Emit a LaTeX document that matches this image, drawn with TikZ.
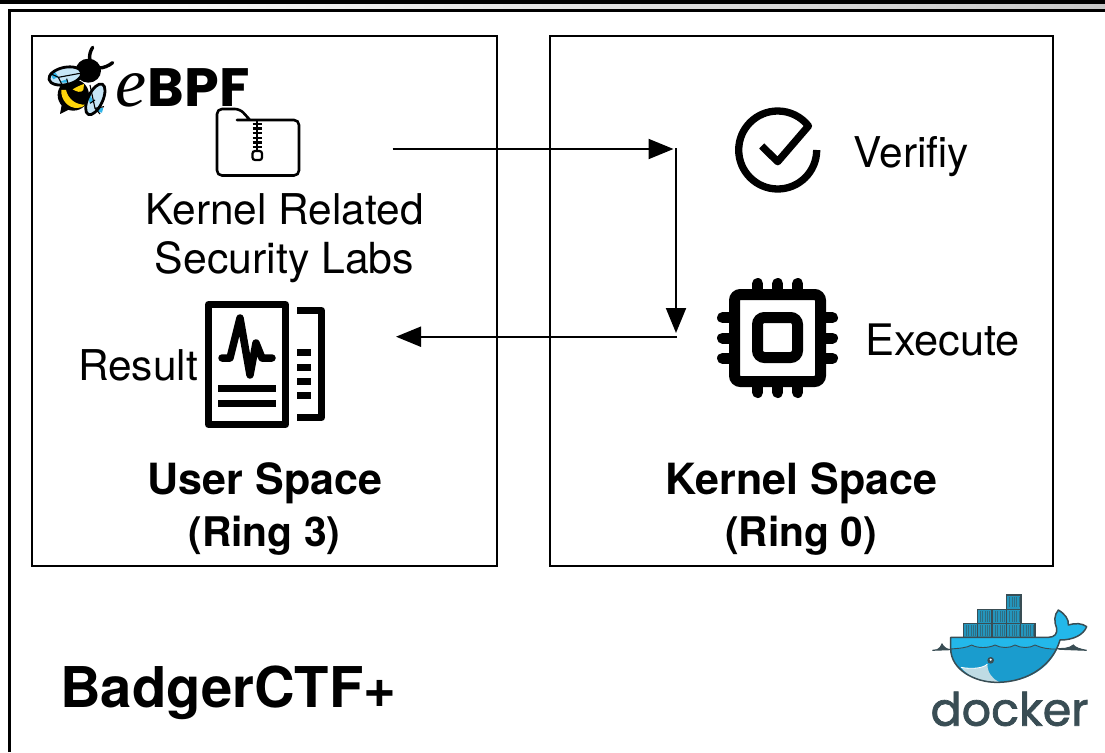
\documentclass[tikz,border=0pt]{standalone}
\usepackage{fontspec}
\usepackage{graphicx}
\setmainfont{TeX Gyre Heros}
\newfontfamily\pop{Poppins}
\newfontfamily\popd[RawFeature={embolden=1.6}]{Poppins}
\newfontfamily\tim{Liberation Serif}
\usetikzlibrary{arrows.meta}
\definecolor{dk}{HTML}{394D54}
\definecolor{wlight}{HTML}{23B8EA}
\definecolor{wdark}{HTML}{1A9CCE}
\definecolor{cbox}{HTML}{2496BD}
\definecolor{mouthc}{HTML}{BFDBE4}
\definecolor{wing}{HTML}{C6E5F6}
\definecolor{wingb}{HTML}{2FB4E8}
\definecolor{beey}{HTML}{FFD60A}
\tikzset{
  txt/.style={inner sep=0pt,anchor=base,font=\fontsize{42.4}{50}\selectfont},
  txtb/.style={inner sep=0pt,anchor=base,font=\fontsize{43}{50}\selectfont\bfseries},
  ringb/.style={inner sep=0pt,anchor=base,font=\fontsize{40.8}{50}\selectfont\bfseries},
  spacebox/.style={draw=black,line width=2pt,outer sep=0pt,inner sep=0pt,anchor=north west},
  conn/.style={line width=2pt,-{Triangle[length=25pt,width=20pt]}},
  icon/.style={line width=7pt,black},
  chip/.style={line width=11pt,black},
  pin/.style={line width=11pt,line cap=round,black},
  dshape/.style={draw=dk,line width=1.5pt},
  bee/.style={draw=black,line width=2.8pt,line join=round},
}
\begin{document}
\begin{tikzpicture}[x=1pt,y=-1pt]
\useasboundingbox (0,0) rectangle (1105,752);
\fill[white] (0,0) rectangle (1105,752);
% window frame
\shade[left color=white,right color=black!22] (0,4) rectangle (1105,9);
\fill[black] (0,0) rectangle (1105,4);
\draw[line width=2.6pt] (9.5,752) -- (9.5,10.3) -- (1105,10.3);
% boxes
\node[spacebox,minimum width=465pt,minimum height=530pt] (user) at (32,36) {};
\node[spacebox,minimum width=503pt,minimum height=530pt] (kernel) at (550,36) {};
% eBPF logo
\node[inner sep=0pt,anchor=base west] (ebpf) at (115.5,106.6) {{\fontsize{70}{80}\selectfont\tim\itshape e}\kern1pt\scalebox{1.03}[1]{\fontsize{54}{60}\selectfont\pop\bfseries BPF}};
\begin{scope}[shift={(40,40)},scale=1/3]
  \draw[line width=3.4pt,line cap=round] (150,62) .. controls (146,45) and (152,32) .. (158,22);
  \draw[line width=3.4pt,line cap=round] (175,84) .. controls (192,84) and (205,78) .. (218,68);
  \fill[black] (60,222) -- (66,190) -- (95,205) -- cycle;
  \fill[black] (100,165) circle (47);
  \fill[beey] (64,150) .. controls (62,180) and (85,205) .. (112,204) .. controls (122,204) and (130,200) .. (136,194) .. controls (110,195) and (85,180) .. (78,150) -- cycle;
  \fill[beey] (98,148) .. controls (110,155) and (122,160) .. (130,150) -- (132,132) .. controls (120,136) and (108,142) .. (98,148) -- cycle;
  \fill[black] (145,92) ellipse (38 and 36);
  \fill[wing,rotate around={12:(76,108)}] (76,108) ellipse (50 and 26);
  \fill[wingb] (30,100) -- (42,92) -- (55,110) -- (40,118) -- cycle;
  \fill[wingb] (60,125) -- (80,118) -- (82,128) -- (68,128) -- cycle;
  \draw[black,line width=1.1pt] (30,100) -- (55,112) -- (120,100) (55,112) -- (65,132) (80,116) -- (84,130);
  \draw[bee,rotate around={12:(76,108)}] (76,108) ellipse (50 and 26);
  \fill[wing,rotate around={65:(166,178)}] (166,178) ellipse (50 and 22);
  \fill[wingb] (150,165) -- (160,185) -- (150,190) -- (143,172) -- cycle;
  \fill[wingb] (172,205) -- (190,203) -- (186,218) -- (172,215) -- cycle;
  \draw[black,line width=1.1pt] (150,135) -- (165,205) -- (180,222) (165,205) -- (192,200) (150,190) -- (165,180);
  \draw[bee,rotate around={65:(166,178)}] (166,178) ellipse (50 and 22);
\end{scope}
% folder icon
\draw[line width=2.6pt,line join=round,line cap=round,rounded corners=5pt] (237,120) -- (299,120) -- (299,175.5) -- (217,175.5) -- (217,109) -- (240,109) -- (250,120);
\draw[line width=2.2pt] (257,120) -- (257,151);
\foreach \ty in {124,128.5,133,138,142.5,147}{\draw[line width=2.4pt] (252.5,\ty) -- (261.5,\ty);}
\draw[line width=2.2pt,rounded corners=2.5pt] (252.5,151) -- (262,151) -- (262,160) -- (252.5,160) -- cycle;
% labels user space
\node[txt] (krl) at (284.5,224) {Kernel Related};
\node[inner sep=0pt,anchor=base,font=\fontsize{42.8}{50}\selectfont] (sec) at (284.5,273) {Security Labs};
\node[txt,anchor=base east] (res) at (198,380) {Result};
\node[txtb] (usr) at (265,494) {User Space};
\node[ringb] (rng3) at (264.5,546) {(Ring 3)};
% report icon
\draw[icon,line join=round] (208.5,304.5) rectangle (285.5,424.5);
\draw[icon,line join=round] (297,310.5) -- (321.5,310.5) -- (321.5,417.5) -- (297,417.5);
\foreach \dy in {352.7,367.3,381.3,395.7}{\draw[icon] (297,\dy) -- (311,\dy);}
\draw[icon] (218,388.7) -- (276,388.7);
\draw[icon] (218,403) -- (276,403);
\draw[icon,line join=round,line cap=round,line width=7.5pt] (222,358) -- (230,358) -- (240,318) -- (250,375) -- (256,343) -- (262,358) -- (272,358);
% connectors
\coordinate (a) at (392.7,149);
\coordinate (b) at (673.5,149);
\coordinate (c) at (676,148);
\coordinate (d) at (676,333);
\coordinate (e) at (677,336.7);
\coordinate (f) at (396,336.7);
\draw[conn] (a) -- (b);
\draw[conn] (c) -- (d);
\draw[conn] (e) -- (f);
% check icon
\draw[line width=7.3pt,line join=round] (816.7,150) arc[start angle=0,end angle=322,radius=39] -- (777.7,161.7) -- (761.7,146);
\node[txt,anchor=base west] (ver) at (853.5,167) {Verifiy};
% chip icon
\draw[chip,rounded corners=6pt] (734.5,294.5) rectangle (820.5,381.5);
\draw[chip,rounded corners=7pt] (757.5,317.5) rectangle (797.5,357.5);
\foreach \p in {757.7,777.7,797.7}{\draw[pin] (\p,283.5) -- (\p,290); \draw[pin] (\p,392.5) -- (\p,386);}
\foreach \p in {317.7,338,358.3}{\draw[pin] (722.5,\p) -- (729,\p); \draw[pin] (832.5,\p) -- (826,\p);}
\node[inner sep=0pt,anchor=base west,font=\fontsize{43.4}{50}\selectfont] (exe) at (865,355) {Execute};
\node[txtb] (ker) at (801.5,494) {Kernel Space};
\node[ringb] (rng0) at (801,546) {(Ring 0)};
% badger
\node[inner sep=0pt,anchor=base west,font=\fontsize{56.2}{60}\selectfont\bfseries] (bad) at (60,707.5) {BadgerCTF+};
% docker
\begin{scope}[shift={(900,580)},scale=1/3]
  \foreach \cx/\cy in {190/130,232/130,277/130,320/130,362/130,232/88,277/88,320/88,320/45}{
    \fill[cbox] (\cx,\cy) rectangle ++(43,43);
    \foreach \k in {9,16,23,30,37}{\draw[dk!55!cbox,line width=.6pt] (\cx+\k,\cy+6) -- ++(0,31);}
    \draw[dk,line width=1.6pt] (\cx,\cy) rectangle ++(43,43);
  }
  \draw[dk,line width=1pt,fill=dk] (97,211) -- (112,209) .. controls (120,207) and (122,198) .. (126,192) .. controls (130,200) and (138,208) .. (152,209) -- cycle;
  \draw[dk,line width=1pt,fill=dk] (472,206) -- (495,205) .. controls (505,204) and (515,200) .. (520,195) .. controls (525,202) and (540,208) .. (560,211) -- (480,208) -- cycle;
  \fill[wlight] (152,172) -- (445,172) .. controls (465,172) and (472,160) .. (470,145) .. controls (462,125) and (462,105) .. (475,90) .. controls (495,102) and (507,118) .. (505,135) .. controls (525,128) and (548,130) .. (560,140) .. controls (550,165) and (520,180) .. (480,180) .. controls (460,250) and (390,307) .. (290,307) .. controls (225,307) and (152,270) .. (152,205) -- cycle;
  \fill[wdark] (152,207) .. controls (175,205) and (200,204) .. (215,195) .. controls (232,205) and (265,205) .. (285,195) .. controls (302,205) and (330,205) .. (345,195) .. controls (362,205) and (390,205) .. (405,195) .. controls (425,205) and (450,208) .. (471,207) .. controls (445,265) and (385,307) .. (290,307) .. controls (225,307) and (152,270) .. (152,207) -- cycle;
  \draw[dk,line width=.9pt] (152,207) .. controls (175,205) and (200,204) .. (215,195) .. controls (232,205) and (265,205) .. (285,195) .. controls (302,205) and (330,205) .. (345,195) .. controls (362,205) and (390,205) .. (405,195) .. controls (425,205) and (450,208) .. (471,207);
  \fill[mouthc] (183,262) .. controls (215,268) and (250,265) .. (262,252) .. controls (262,280) and (280,298) .. (297,306) .. controls (245,307) and (205,290) .. (183,262) -- cycle;
  \draw[white,line width=.8pt] (183,262) .. controls (215,268) and (250,265) .. (262,252);
  \fill[dk] (272,241) circle (10);
  \fill[white] (272,239) circle (3.5);
  \draw[dshape,line join=round] (152,172) -- (445,172) .. controls (465,172) and (472,160) .. (470,145) .. controls (462,125) and (462,105) .. (475,90) .. controls (495,102) and (507,118) .. (505,135) .. controls (525,128) and (548,130) .. (560,140) .. controls (550,165) and (520,180) .. (480,180) .. controls (460,250) and (390,307) .. (290,307) .. controls (225,307) and (152,270) .. (152,205) -- cycle;
\end{scope}
\node[inner sep=0pt,anchor=base,text=dk,font=\fontsize{46}{56}\selectfont\popd] (dock) at (1009.5,725.7) {docker};
\end{tikzpicture}
\end{document}
